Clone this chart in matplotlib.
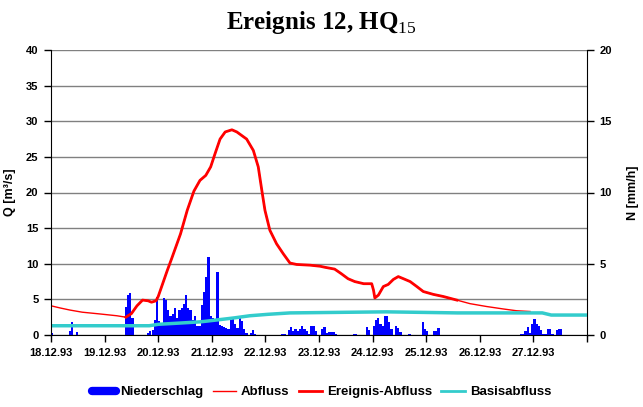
import numpy as np
import matplotlib
matplotlib.use("Agg")
import matplotlib.pyplot as plt
from matplotlib.lines import Line2D

# Niederschlag [mm/h], Stunden ab 18.12.93 00:00 (nur Stunden mit Regen)
regen_stunde = [0, 8, 9, 11,
                33, 34, 35, 36,
                43, 44, 45, 46, 47, 48, 49, 50, 51, 52, 53, 54, 55, 56, 57, 58, 59,
                60, 61, 62, 63, 64, 65, 66, 67, 68, 69, 70, 71, 72, 73, 74, 75, 76,
                77, 78, 79, 80, 81, 82, 83, 84, 85, 86, 87, 89, 90, 91,
                103, 104, 106, 107, 108, 109, 110, 111, 112, 113, 114, 115, 116, 117, 118,
                121, 122, 123, 124, 125, 126, 127, 135, 136,
                141, 142, 144, 145, 146, 147, 148, 149, 150, 151, 152, 154, 155, 156, 160,
                166, 167, 168, 171, 172, 173,
                210, 211, 212, 213, 214, 215, 216, 217, 218, 219, 220, 221, 222, 223, 224,
                226, 227, 228]
regen_mm = [0.12, 0.3, 0.9, 0.2,
            2.0, 2.8, 2.95, 1.2,
            0.15, 0.3, 0.35, 1.05, 2.7, 1.0, 0.8, 2.6, 2.45, 1.75, 1.3, 1.5, 1.9, 1.2, 1.75, 1.9, 2.2,
            2.8, 1.9, 1.75, 1.05, 1.3, 0.6, 0.6, 2.1, 3.0, 4.1, 5.5, 1.3, 1.2, 1.1, 4.4, 0.7, 0.6,
            0.55, 0.5, 0.45, 1.05, 1.2, 0.8, 0.5, 1.2, 1.0, 0.45, 0.15, 0.15, 0.35, 0.1,
            0.07, 0.07, 0.35, 0.55, 0.3, 0.4, 0.3, 0.45, 0.6, 0.4, 0.3, 0.1, 0.65, 0.6, 0.25,
            0.45, 0.55, 0.12, 0.2, 0.2, 0.2, 0.1, 0.07, 0.07,
            0.55, 0.35, 0.65, 1.05, 1.2, 0.8, 0.65, 1.35, 1.3, 0.9, 0.45, 0.6, 0.5, 0.2, 0.1,
            0.9, 0.4, 0.3, 0.25, 0.3, 0.5,
            0.1, 0.1, 0.3, 0.55, 0.15, 0.77, 1.15, 0.8, 0.6, 0.35, 0.1, 0.05, 0.45, 0.4, 0.1,
            0.35, 0.45, 0.45]

# Abfluss [m3/s]
abfluss_stunde = [0, 4, 8.5, 14, 22, 29.5, 33.5, 36, 38.5, 41, 43.5, 45, 47, 48, 50, 52,
                  54, 58, 61, 64, 66.7, 69.3, 71.5, 73.4, 75.7, 78, 81, 83.2, 87.6, 90.6,
                  92.8, 94.4, 95.8, 98, 101, 104, 107, 110, 116, 120.5, 122.7, 127, 130,
                  133, 136, 140, 143.6, 144.4, 145, 146.6, 148.8, 151, 153.3, 155.5, 157.8,
                  160.8, 163.8, 166.7, 171.2, 175.7, 181.7, 187.6, 195, 202.6, 208.5, 214.5]
abfluss_q = [4.1, 3.8, 3.5, 3.2, 2.95, 2.7, 2.5, 3.0, 4.1, 4.9, 4.8, 4.6, 4.8, 5.4, 7.2, 9.0,
             10.7, 14.2, 17.5, 20.2, 21.7, 22.4, 23.6, 25.4, 27.5, 28.5, 28.8, 28.5, 27.5, 25.9,
             23.6, 20.3, 17.5, 14.7, 12.8, 11.4, 10.1, 9.9, 9.8, 9.65, 9.5, 9.25, 8.6,
             7.9, 7.5, 7.2, 7.2, 6.3, 5.2, 5.6, 6.8, 7.1, 7.8, 8.2, 7.9,
             7.5, 6.8, 6.1, 5.7, 5.4, 4.9, 4.4, 4.0, 3.65, 3.4, 3.3]
ereignis_start = 33.5
ereignis_ende = 181.7

# Basisabfluss [m3/s]
basis_stunde = [0, 44, 48, 59, 67, 74, 82, 89, 97, 107, 150, 182, 220, 224, 240]
basis_q = [1.3, 1.3, 1.5, 1.7, 1.85, 2.1, 2.4, 2.7, 2.9, 3.1, 3.25, 3.1, 3.1, 2.8, 2.8]

tage = ["18.12.93", "19.12.93", "20.12.93", "21.12.93", "22.12.93",
        "23.12.93", "24.12.93", "25.12.93", "26.12.93", "27.12.93"]

sans = "Liberation Sans"
plt.rcParams["mathtext.fontset"] = "custom"
plt.rcParams["mathtext.rm"] = "Liberation Serif"

fig = plt.figure(figsize=(6.43, 4.07), dpi=100)
ax = fig.add_axes([51 / 643, 1 - 335 / 407, 536 / 643, 285 / 407])
ax2 = ax.twinx()
ax.set_zorder(ax2.get_zorder() + 1)
ax.patch.set_visible(False)

# Niederschlag als Balken auf rechter Achse
ax2.bar(regen_stunde, regen_mm, width=1.0, align="edge", color="#0000ff", linewidth=0)
ax2.set_ylim(0, 20)
ax2.set_yticks([0, 5, 10, 15, 20])
ax2.set_yticks(np.arange(2.5, 20, 5), minor=True)
ax2.grid(which="both", axis="y", color="#808080", lw=1)
ax2.set_axisbelow(True)
ax2.tick_params(which="minor", length=0)
ax2.tick_params(which="major", length=5, width=1, pad=4)
for t in ax2.get_yticklabels():
    t.set_fontfamily(sans)
    t.set_fontweight("bold")
    t.set_fontsize(8)
ax2.set_ylabel("N [mm/h]", family=sans, weight="bold", fontsize=9, labelpad=11)

# Abfluesse auf linker Achse
h = np.array(abfluss_stunde)
q = np.array(abfluss_q)
ax.plot(h, q, color="#ff0000", lw=1)
m = (h >= ereignis_start) & (h <= ereignis_ende)
ax.plot(h[m], q[m], color="#ff0000", lw=2)
ax.plot(basis_stunde, basis_q, color="#33cccc", lw=2.5)

ax.set_xlim(0, 240)
ax.set_ylim(0, 40)
ax.set_yticks(range(0, 41, 5))
ax.set_xticks(range(0, 241, 24))
ax.set_xticklabels(tage + [""])
ax.tick_params(length=5, width=1, pad=4)
for t in ax.get_yticklabels() + ax.get_xticklabels():
    t.set_fontfamily(sans)
    t.set_fontweight("bold")
    t.set_fontsize(8)
ax.set_ylabel("Q [m³/s]", family=sans, weight="bold", fontsize=9, labelpad=7)

for a in (ax, ax2):
    a.spines["top"].set_visible(False)
ax2.spines["left"].set_visible(False)
ax2.spines["bottom"].set_visible(False)
ax.spines["right"].set_visible(False)

fig.text(0.5, 1 - 22 / 407, r"Ereignis 12, HQ$_{\mathrm{15}}$", ha="center", va="center",
         family="Liberation Serif", weight="bold", fontsize=18)

handles = [Line2D([], [], color="#0000ff", lw=6, solid_capstyle="round"),
           Line2D([], [], color="#ff0000", lw=1),
           Line2D([], [], color="#ff0000", lw=2),
           Line2D([], [], color="#33cccc", lw=2)]
labels = ["Niederschlag", "Abfluss", "Ereignis-Abfluss", "Basisabfluss"]
fig.legend(handles, labels, loc="center", bbox_to_anchor=(0.5, 1 - 392 / 407), ncol=4,
           frameon=False, prop=dict(family=sans, weight="bold", size=9.5),
           handlelength=1.8, handletextpad=0.35, columnspacing=0.7)

fig.savefig("out.png", dpi=100)
